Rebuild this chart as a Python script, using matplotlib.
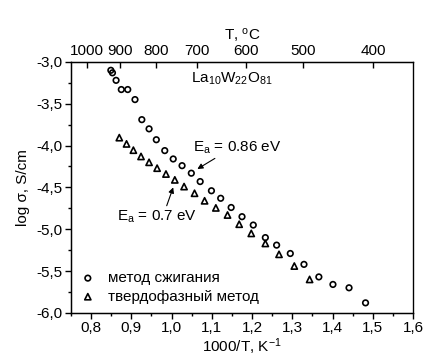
import matplotlib
matplotlib.use("Agg")
import matplotlib.pyplot as plt
from matplotlib.ticker import FuncFormatter, MultipleLocator, FixedLocator

plt.rcParams['font.family'] = ['Liberation Sans', 'DejaVu Sans']
plt.rcParams['mathtext.fontset'] = 'custom'
plt.rcParams['mathtext.rm'] = 'Liberation Sans'
plt.rcParams['mathtext.it'] = 'Liberation Sans'
plt.rcParams['mathtext.default'] = 'regular'

# data
comb_x = [0.849, 0.853, 0.862, 0.875, 0.891, 0.909, 0.926, 0.944, 0.962, 0.983,
          1.004, 1.026, 1.049, 1.071, 1.099, 1.122, 1.148, 1.175, 1.203, 1.233,
          1.261, 1.295, 1.329, 1.366, 1.401, 1.441, 1.482]
comb_y = [-3.10, -3.13, -3.22, -3.33, -3.33, -3.45, -3.69, -3.80, -3.93, -4.06,
          -4.16, -4.24, -4.33, -4.43, -4.54, -4.63, -4.74, -4.85, -4.95, -5.10,
          -5.19, -5.29, -5.42, -5.57, -5.66, -5.70, -5.88]
solid_x = [0.870, 0.888, 0.905, 0.924, 0.944, 0.964, 0.986, 1.008, 1.031, 1.057,
           1.082, 1.110, 1.139, 1.168, 1.198, 1.233, 1.267, 1.305, 1.343]
solid_y = [-3.905, -3.98, -4.055, -4.13, -4.20, -4.27, -4.34, -4.41, -4.49, -4.57,
           -4.66, -4.745, -4.83, -4.94, -5.05, -5.17, -5.30, -5.44, -5.60]
top_labels = ['1000', '900', '800', '700', '600', '500', '400']
top_pos = [0.789, 0.872, 0.962, 1.064, 1.186, 1.327, 1.501]

fig = plt.figure(figsize=(4.26, 3.58), dpi=100)
ax = fig.add_axes([0.1667, 0.126, 0.8028, 0.701])

ax.scatter(comb_x, comb_y, marker='o', s=16, facecolors='none', edgecolors='black',
           linewidths=1.2, label='метод сжигания', zorder=3)
ax.scatter(solid_x, solid_y, marker='^', s=20, facecolors='none', edgecolors='black',
           linewidths=1.2, label='твердофазный метод', zorder=3)

ax.set_xlim(0.75, 1.6)
ax.set_ylim(-6.0, -3.0)
ax.xaxis.set_major_locator(MultipleLocator(0.1))
ax.xaxis.set_minor_locator(MultipleLocator(0.05))
ax.yaxis.set_major_locator(MultipleLocator(0.5))
ax.yaxis.set_minor_locator(MultipleLocator(0.25))
ax.xaxis.set_major_formatter(FuncFormatter(lambda v, p: f"{v:.1f}".replace('.', ',')))
ax.yaxis.set_major_formatter(FuncFormatter(lambda v, p: f"{v:.1f}".replace('.', ',')))
ax.tick_params(axis='both', which='major', direction='out', length=4, width=1, labelsize=11, pad=2)
ax.tick_params(axis='both', which='minor', direction='out', length=2.5, width=1)
ax.tick_params(top=False, right=False)
for s in ax.spines.values():
    s.set_linewidth(1.0)
ax.spines['right'].set_color('#555555')

ax.set_xlabel('1000/T, K$^{-1}$', fontsize=11, labelpad=1)
ax.set_ylabel('log σ, S/cm', fontsize=11, labelpad=5)

top = ax.twiny()
top.set_xlim(ax.get_xlim())
top.xaxis.set_major_locator(FixedLocator(top_pos))
top.set_xticklabels(top_labels)
top.xaxis.set_minor_locator(FixedLocator([]))
top.tick_params(axis='x', direction='in', length=4, width=1, labelsize=11, pad=3)
top.set_xlabel('T, $^{o}$C', fontsize=11, labelpad=3)

ax.text(1.15, -3.20, 'La$_{10}$W$_{22}$O$_{81}$', fontsize=11, ha='center', va='center')

ax.annotate('E$_{a}$ = 0.86 eV', xy=(1.064, -4.28), xytext=(1.053, -4.12),
            fontsize=11, ha='left', va='bottom',
            arrowprops=dict(arrowstyle='-|>', color='black', lw=0.8, mutation_scale=8,
                            shrinkA=0, shrinkB=0, relpos=(0.3, 0.0)))
ax.annotate('E$_{a}$ = 0.7 eV', xy=(1.004, -4.50), xytext=(0.864, -4.85),
            fontsize=11, ha='left', va='center',
            arrowprops=dict(arrowstyle='-|>', color='black', lw=0.8, mutation_scale=8,
                            shrinkA=0, shrinkB=0, relpos=(0.61, 1.0)))

leg = ax.legend(loc='lower left', frameon=False, fontsize=11, handletextpad=0.8,
                borderaxespad=0.2, labelspacing=0.3, handlelength=1.0,
                bbox_to_anchor=(0.0, 0.0))

fig.savefig('out.png', dpi=100)
